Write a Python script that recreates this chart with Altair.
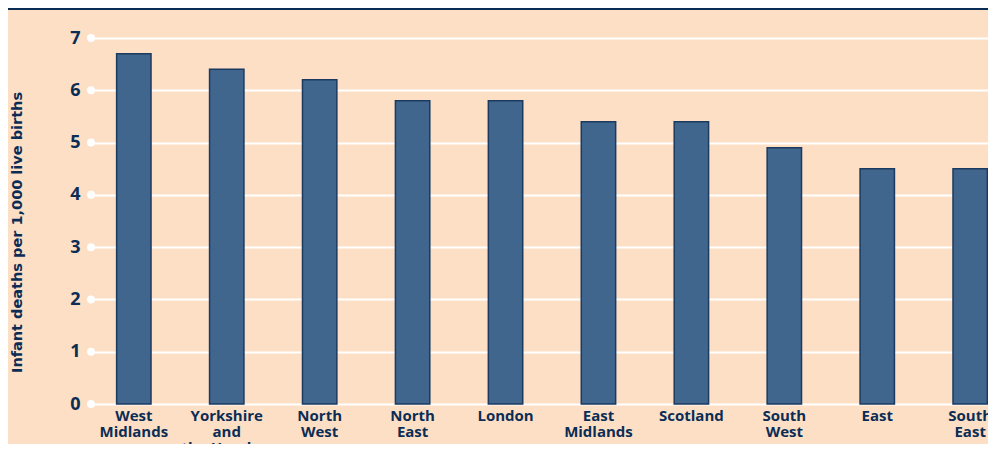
import altair as alt
import pandas as pd

regions = ["West Midlands", "Yorkshire and the Humber", "North West", "North East",
           "London", "East Midlands", "Scotland", "South West", "East", "South East"]
rates = [6.7, 6.4, 6.2, 5.8, 5.8, 5.4, 5.4, 4.9, 4.5, 4.5]
ticks = [0, 1, 2, 3, 4, 5, 6, 7]

PEACH = "#FDDFC6"
NAVY = "#0B2D55"
BAR = "#41668E"
BAR_EDGE = "#1B3A60"
FONT = "Open Sans"

df = pd.DataFrame({"region": regions, "rate": rates})
tick_df = pd.DataFrame({"tick": ticks})
band_df = pd.DataFrame({"a": [0]})

label_expr = ("datum.label == 'Yorkshire and the Humber' ? ['Yorkshire', 'and', 'the Humber'] : "
              "split(datum.label, ' ')")

y_title = "Infant deaths per 1,000 live births"
y_axis = alt.Axis(title=y_title, values=ticks,
                  titleFont="DejaVu Sans", titleFontSize=14.5, titleFontWeight="bold",
                  titleColor=NAVY, titleX=-71, titleY=194, titleAngle=-90,
                  titleAlign="center", titleBaseline="middle",
                  labelFont=FONT, labelFontSize=18, labelFontWeight="bold",
                  labelColor=NAVY, labelPadding=8, ticks=False, domain=False,
                  grid=True, gridColor="white", gridWidth=2, gridOpacity=1)
y_scale = alt.Scale(domain=[0, 7], nice=False)

bars = alt.Chart(df).mark_bar(color=BAR, stroke=BAR_EDGE, strokeWidth=1.5).encode(
    x=alt.X("region:N", sort=regions,
            scale=alt.Scale(range=[0, 928], paddingInner=0.63, paddingOuter=0.308),
            axis=alt.Axis(title=None, labelAngle=0, labelExpr=label_expr, labelFont=FONT,
                          labelFontSize=15, labelFontWeight="bold", labelColor=NAVY,
                          labelLineHeight=16, labelPadding=4, labelBaseline="top",
                          ticks=False, domain=False, grid=False, labelOverlap=False)),
    y=alt.Y("rate:Q", scale=y_scale, axis=y_axis, title=y_title),
)

dots = alt.Chart(tick_df).mark_circle(color="white", opacity=1, size=64).encode(
    x=alt.value(3),
    y=alt.Y("tick:Q", scale=y_scale, axis=y_axis, title=y_title),
)

band = alt.Chart(band_df).mark_rect(color=NAVY).encode(
    x=alt.value(-80), x2=alt.value(900), y=alt.value(-30), y2=alt.value(-28)
)

chart = alt.layer(bars, dots, band).properties(
    width=900, height=366,
    padding={"left": 80, "top": 30, "right": 0, "bottom": 40},
    autosize=alt.AutoSizeParams(type="none"),
    background=PEACH,
).configure_view(stroke=None)

chart.save("out.html", embed_options={"renderer": "svg", "actions": False})
